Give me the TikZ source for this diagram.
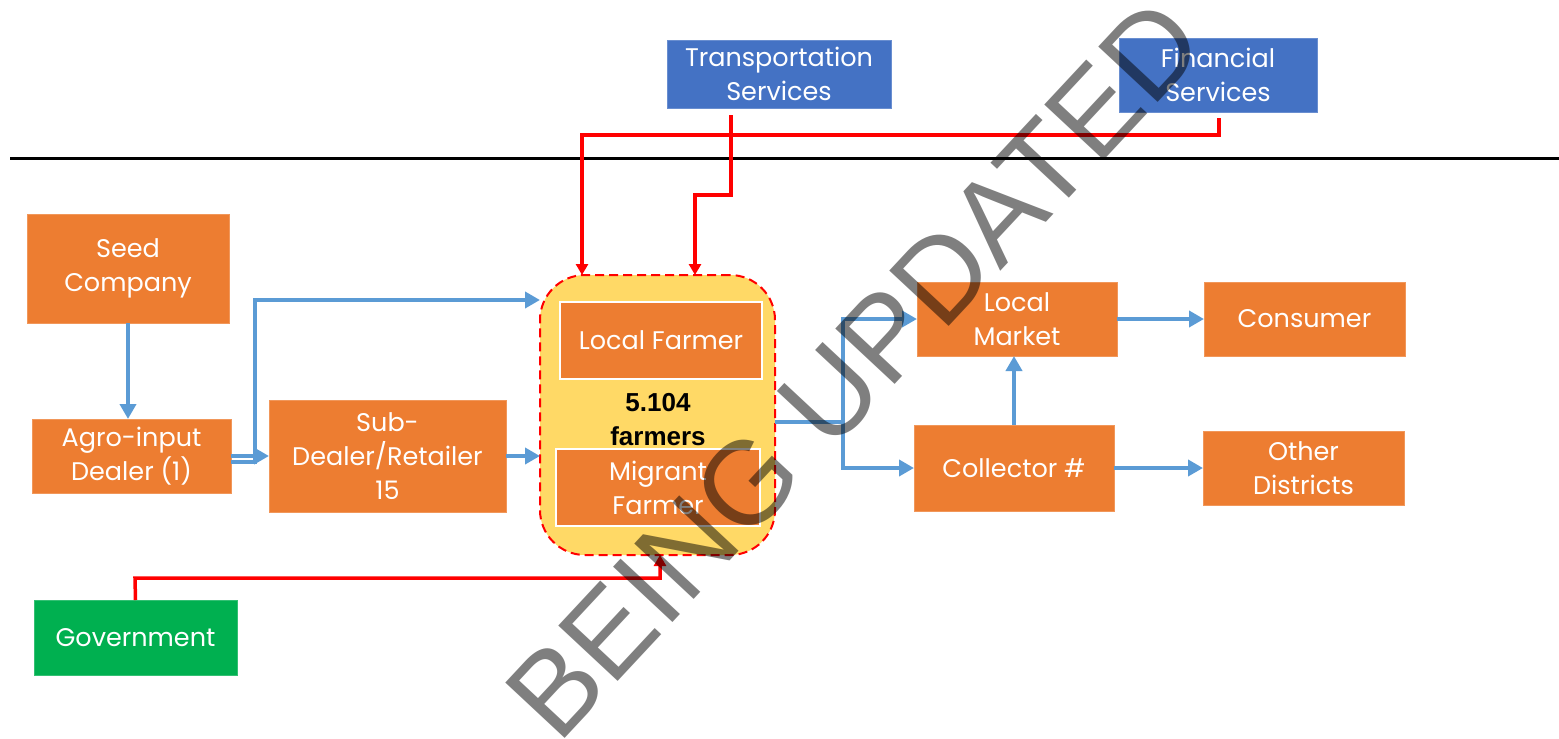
\documentclass[tikz,border=0pt]{standalone}
\usepackage{fontspec}
\setmainfont{Poppins}
\newfontfamily\markfont{Liberation Sans}
\newfontfamily\countfont{Liberation Sans}
\usetikzlibrary{arrows.meta}
\definecolor{boxorange}{HTML}{ED7D31}
\definecolor{boxblue}{HTML}{4472C4}
\definecolor{boxgreen}{HTML}{00B050}
\definecolor{farmyellow}{HTML}{FFD966}
\definecolor{flowblue}{HTML}{5B9BD5}
\definecolor{supportred}{HTML}{FF0000}
\begin{document}
\begin{tikzpicture}[x=1pt,y=-1pt,
  every node/.style={inner sep=0pt,outer sep=0pt},
  box/.style={fill=boxorange,draw=boxorange!80!white,line width=0.8pt,text=white,align=center,
    font=\fontsize{25.5}{34}\selectfont},
  service/.style={box,fill=boxblue,draw=boxblue!80!white},
  govbox/.style={box,fill=boxgreen,draw=boxgreen!80!white},
  farmerbox/.style={box,draw=white,line width=2.5pt},
  flow/.style={draw=flowblue,line width=4pt,-{Triangle[length=15pt,width=16pt]}},
  support/.style={draw=supportred,line width=3.5pt,-{Triangle[length=11pt,width=12pt]}}]
\useasboundingbox (0,0) rectangle (1559,739);

% divider between support services and the chain
\draw[line width=3pt] (10,158) -- (1559,158);

% support services
\node[service,minimum width=224pt,minimum height=68pt] (trans) at (779,74) {Transportation\\Services};
\node[service,minimum width=198pt,minimum height=74pt] (fin) at (1218,75) {Financial\\Services};

% input side
\node[box,minimum width=202pt,minimum height=109pt] (seed) at (128,268.5) {Seed\\Company};
\node[box,minimum width=199pt,minimum height=74pt] (agro) at (131.5,456) {Agro-input\\Dealer (1)};
\node[box,minimum width=237pt,minimum height=112pt] (sub) at (387.5,456) {Sub-\\Dealer/Retailer\\15};

% farmers group
\node[fill=farmyellow,draw=supportred,line width=2pt,dash pattern=on 9pt off 5pt,
  rounded corners=45pt,minimum width=235pt,minimum height=280pt] (farm) at (657.5,415) {};
\node[farmerbox,minimum width=202pt,minimum height=77pt] (lf) at (661,340.5) {Local Farmer};
\node[farmerbox,minimum width=204pt,minimum height=77pt] (mf) at (658,487.5) {Migrant\\Farmer};
\node[align=center,font=\countfont\bfseries\fontsize{26}{34}\selectfont] (count) at (658,420) {5.104\\farmers};

% market side
\node[box,minimum width=200pt,minimum height=74pt] (lm) at (1017,319) {Local\\Market};
\node[box,minimum width=201pt,minimum height=74pt] (cons) at (1304.5,319) {Consumer};
\node[box,minimum width=200pt,minimum height=86pt] (coll) at (1014,468) {Collector \#};
\node[box,minimum width=201pt,minimum height=74pt] (oth) at (1303.5,468) {Other\\Districts};

% government
\node[govbox,minimum width=203pt,minimum height=75pt] (gov) at (135.5,637.5) {Government};

% product flows
\draw[flow] (seed.south) -- (seed.south |- agro.north);
\draw[flow] (agro.east) -- (agro.east -| sub.west);
\draw[flow] ([yshift=-6pt]agro.east) -| (255,300) -- (farm.west |- 0,300);
\draw[flow] (sub.east) -- (sub.east -| farm.west);
\coordinate (split) at (843,422);
\draw[flow] (farm.east |- split) -- (split) |- (lm.west);
\draw[flow] (split) |- (coll.west);
\draw[flow] (lm.east) -- (cons.west);
\draw[flow] (coll.north) -- (coll.north |- lm.south);
\draw[flow] (coll.east) -- (oth.west);

% support links
\draw[support] ([yshift=-7pt]trans.south -| 731,0) -- (731,195) -- (695,195) -- (farm.north -| 695,0);
\draw[support] ([yshift=-6pt]fin.south -| 1219,0) -- (1219,135) -- (582,135) -- (farm.north -| 582,0);
\draw[support] (gov.north) -- (135,578) -- (660,578) -- (farm.south -| 660,0);

% watermark
\node[font=\markfont\fontsize{118}{118}\selectfont,text=black,text opacity=0.5,rotate=47] (mark) at (854,369) {BEING UPDATED};
\end{tikzpicture}
\end{document}
